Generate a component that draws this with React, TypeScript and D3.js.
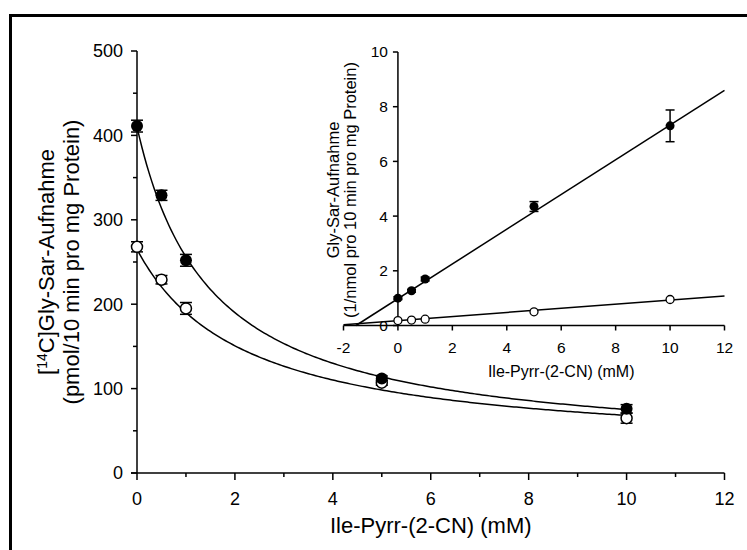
import React from 'react';
import * as d3 from 'd3';

// Main plot data: Gly-Sar uptake vs inhibitor concentration
const conc = [0, 0.5, 1, 5, 10];
const controlUptake = [411, 329, 252, 112, 76];
const controlErr = [7, 6, 7, 3, 5];
const inhibUptake = [268, 229, 195, 107, 65];
const inhibErr = [6, 5, 7, 3, 6];
// hyperbolic fit parameters: [offset, amplitude, K]
const controlFit = [25, 385, 1.5];
const inhibFit = [25, 240, 2.2];

// Inset (Dixon plot) data
const insetConc = [0, 0.5, 1, 5, 10];
const insetControl = [1.0, 1.27, 1.7, 4.35, 7.3];
const insetControlErr = [0.05, 0.05, 0.07, 0.18, 0.58];
const insetInhib = [0.18, 0.2, 0.23, 0.5, 0.95];
const insetInhibErr = [0.03, 0.03, 0.03, 0.04, 0.05];
// linear fits: [intercept, slope]
const insetControlLine = [0.98, 0.635];
const insetInhibLine = [0.18, 0.075];

const mainXTicks = [0, 2, 4, 6, 8, 10, 12];
const mainXMinor = [1, 3, 5, 7, 9, 11];
const mainYTicks = [0, 100, 200, 300, 400, 500];
const mainYMinor = [50, 150, 250, 350, 450];
const insetXTicks = [-2, 0, 2, 4, 6, 8, 10, 12];
const insetYTicks = [0, 2, 4, 6, 8, 10];

const FONT = "'Liberation Sans', Arial, Helvetica, sans-serif";

export default function App() {
  const W = 747, H = 550;
  const x = d3.scaleLinear().domain([0, 12]).range([137, 724.5]);
  const y = d3.scaleLinear().domain([0, 500]).range([473, 51]);
  const xi = d3.scaleLinear().domain([-2, 12]).range([343.5, 724.5]);
  const yi = d3.scaleLinear().domain([0, 10]).range([325.5, 52]);

  const hyper = (p: number[]) => (c: number) => p[0] + p[1] / (1 + c / p[2]);
  const fitXs = d3.range(0, 10.0001, 0.05);
  const line = d3.line<[number, number]>().x(d => x(d[0])).y(d => y(d[1]));
  const ctrlPath = line(fitXs.map(c => [c, hyper(controlFit)(c)]));
  const inhPath = line(fitXs.map(c => [c, hyper(inhibFit)(c)]));

  const ctrlStart = -insetControlLine[0] / insetControlLine[1];
  const inhStart = Math.max(-2, -insetInhibLine[0] / insetInhibLine[1]);
  const lin = (p: number[], c: number) => p[0] + p[1] * c;

  const sw = 1.5;

  const errBar = (cx: number, y1: number, y2: number, cap: number, key: string) => (
    <g key={key} stroke="#000" strokeWidth={sw}>
      <line x1={cx} x2={cx} y1={y1} y2={y2} />
      <line x1={cx - cap} x2={cx + cap} y1={y1} y2={y1} />
      <line x1={cx - cap} x2={cx + cap} y1={y2} y2={y2} />
    </g>
  );

  return (
    <svg width={W} height={H} style={{ position: 'absolute', left: 0, top: 0, background: '#fff' }} fontFamily={FONT}>
      <rect x={0} y={0} width={W} height={H} fill="#fff" />
      {/* frame */}
      <line x1={9} x2={W} y1={15.5} y2={15.5} stroke="#000" strokeWidth={3} />
      <line x1={10.5} x2={10.5} y1={14} y2={H} stroke="#000" strokeWidth={3} />

      {/* main axes */}
      <line x1={x(0)} x2={x(0)} y1={y(500)} y2={y(0)} stroke="#000" strokeWidth={sw} />
      <line x1={x(0) - 6} x2={x(12)} y1={y(0)} y2={y(0)} stroke="#000" strokeWidth={sw} />
      {mainYTicks.map(t => (
        <g key={'yt' + t}>
          <line x1={x(0) - 6} x2={x(0)} y1={y(t)} y2={y(t)} stroke="#000" strokeWidth={sw} />
          <text x={x(0) - 14} y={y(t)} dy="0.35em" textAnchor="end" fontSize={18}>{t}</text>
        </g>
      ))}
      {mainYMinor.map(t => (
        <line key={'ym' + t} x1={x(0) - 4} x2={x(0)} y1={y(t)} y2={y(t)} stroke="#000" strokeWidth={sw} />
      ))}
      {mainXTicks.map(t => (
        <g key={'xt' + t}>
          <line x1={x(t)} x2={x(t)} y1={y(0)} y2={y(0) + 7} stroke="#000" strokeWidth={sw} />
          <text x={x(t)} y={499} dy="0.35em" textAnchor="middle" fontSize={18}>{t}</text>
        </g>
      ))}
      {mainXMinor.map(t => (
        <line key={'xm' + t} x1={x(t)} x2={x(t)} y1={y(0)} y2={y(0) + 4} stroke="#000" strokeWidth={sw} />
      ))}
      <text x={(x(0) + x(12)) / 2} y={525} dy="0.35em" textAnchor="middle" fontSize={22}>Ile-Pyrr-(2-CN) (mM)</text>
      <text transform={`translate(46,262) rotate(-90)`} textAnchor="middle" dy="0.35em" fontSize={22}>
        [<tspan dy={-7} fontSize={14}>14</tspan><tspan dy={7}>C]Gly-Sar-Aufnahme</tspan>
      </text>
      <text transform={`translate(71,262) rotate(-90)`} textAnchor="middle" dy="0.35em" fontSize={22}>
        (pmol/10 min pro mg Protein)
      </text>

      {/* main curves */}
      <path d={ctrlPath || ''} fill="none" stroke="#000" strokeWidth={sw} />
      <path d={inhPath || ''} fill="none" stroke="#000" strokeWidth={sw} />
      {conc.map((c, i) => errBar(x(c), y(inhibUptake[i] + inhibErr[i]), y(inhibUptake[i] - inhibErr[i]), 6, 'ie' + i))}
      {conc.map((c, i) => errBar(x(c), y(controlUptake[i] + controlErr[i]), y(controlUptake[i] - controlErr[i]), 6, 'ce' + i))}
      {conc.map((c, i) => (
        <circle key={'io' + i} cx={x(c)} cy={y(inhibUptake[i])} r={5.5} fill="#fff" stroke="#000" strokeWidth={sw} />
      ))}
      {conc.map((c, i) => (
        <circle key={'cf' + i} cx={x(c)} cy={y(controlUptake[i])} r={6} fill="#000" />
      ))}

      {/* inset axes */}
      <line x1={xi(0)} x2={xi(0)} y1={yi(10)} y2={yi(0)} stroke="#000" strokeWidth={sw} />
      <line x1={xi(-2)} x2={xi(12)} y1={yi(0)} y2={yi(0)} stroke="#000" strokeWidth={sw} />
      {insetYTicks.map(t => (
        <g key={'iyt' + t}>
          <line x1={xi(0) - 5} x2={xi(0)} y1={yi(t)} y2={yi(t)} stroke="#000" strokeWidth={sw} />
          <text x={xi(0) - 10} y={yi(t)} dy="0.35em" textAnchor="end" fontSize={15.5}>{t}</text>
        </g>
      ))}
      {insetXTicks.map(t => (
        <g key={'ixt' + t}>
          <line x1={xi(t)} x2={xi(t)} y1={yi(0)} y2={yi(0) + 5} stroke="#000" strokeWidth={sw} />
          <text x={xi(t)} y={348} dy="0.35em" textAnchor="middle" fontSize={15.5}>{t}</text>
        </g>
      ))}
      <text x={(xi(0) + xi(12)) / 2} y={371} dy="0.35em" textAnchor="middle" fontSize={16}>Ile-Pyrr-(2-CN) (mM)</text>
      <text transform={`translate(333,190) rotate(-90)`} textAnchor="middle" dy="0.35em" fontSize={16.5}>Gly-Sar-Aufnahme</text>
      <text transform={`translate(350,190) rotate(-90)`} textAnchor="middle" dy="0.35em" fontSize={16.5}>(1/nmol pro 10 min pro mg Protein)</text>

      {/* inset lines */}
      <line x1={xi(ctrlStart)} y1={yi(lin(insetControlLine, ctrlStart))} x2={xi(12)} y2={yi(lin(insetControlLine, 12))} stroke="#000" strokeWidth={sw} />
      <line x1={xi(inhStart)} y1={yi(lin(insetInhibLine, inhStart))} x2={xi(12)} y2={yi(lin(insetInhibLine, 12))} stroke="#000" strokeWidth={sw} />
      {insetConc.map((c, i) => errBar(xi(c), yi(insetControl[i] + insetControlErr[i]), yi(insetControl[i] - insetControlErr[i]), 4.5, 'ice' + i))}
      {insetConc.map((c, i) => errBar(xi(c), yi(insetInhib[i] + insetInhibErr[i]), yi(insetInhib[i] - insetInhibErr[i]), 0, 'iie' + i))}
      {insetConc.map((c, i) => (
        <circle key={'icf' + i} cx={xi(c)} cy={yi(insetControl[i])} r={4.5} fill="#000" />
      ))}
      {insetConc.map((c, i) => (
        <circle key={'iio' + i} cx={xi(c)} cy={yi(insetInhib[i])} r={4} fill="#fff" stroke="#000" strokeWidth={1.3} />
      ))}
    </svg>
  );
}
